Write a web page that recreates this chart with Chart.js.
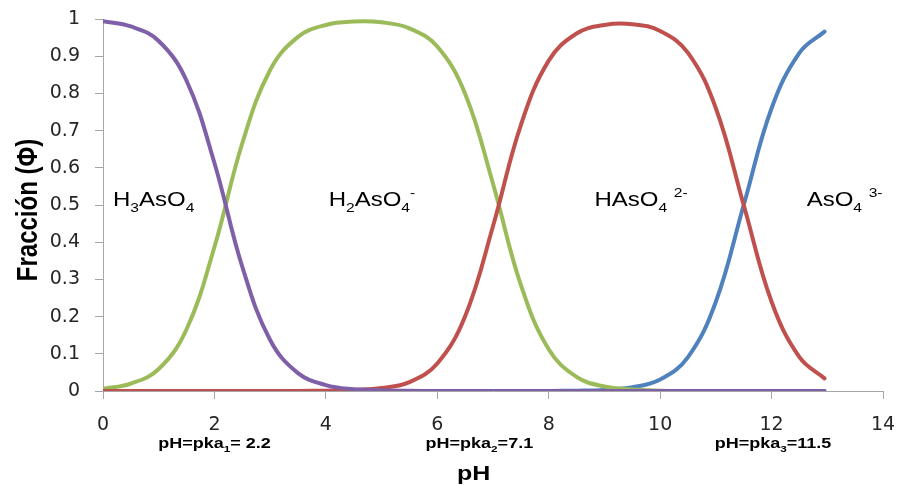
<!DOCTYPE html>
<html>
<head>
<meta charset="utf-8">
<script src="https://cdn.jsdelivr.net/npm/chart.js@4.4.0/dist/chart.umd.min.js"></script>
<style>
html,body{margin:0;padding:0;background:#fff;}
#wrap{width:899px;height:485px;position:relative;}
</style>
</head>
<body>
<div id="wrap"><canvas id="myChart"></canvas></div>
<script>
// values
var pH      = [0,0.5,1,1.5,2,2.5,3,3.5,4,4.5,5,5.5,6,6.5,7,7.5,8,8.5,9,9.5,10,10.5,11,11.5,12,12.5,12.95];
var h3aso4  = [0.994,0.980,0.941,0.834,0.613,0.334,0.137,0.048,0.016,0.005,0.002,0.0005,0,0,0,0,0,0,0,0,0,0,0,0,0,0,0];
var h2aso4  = [0.006,0.020,0.059,0.166,0.387,0.666,0.863,0.952,0.984,0.993,0.991,0.975,0.926,0.799,0.557,0.285,0.112,0.038,0.012,0.004,0.001,0,0,0,0,0,0];
var haso4   = [0,0,0,0,0,0,0,0,0.001,0.003,0.008,0.024,0.074,0.201,0.443,0.715,0.888,0.961,0.984,0.986,0.968,0.909,0.760,0.500,0.240,0.091,0.034];
var aso4    = [0,0,0,0,0,0,0,0,0,0,0,0,0,0,0,0,0,0.001,0.003,0.010,0.031,0.091,0.240,0.500,0.760,0.909,0.966];
var yTickLabels = ['0','0.1','0.2','0.3','0.4','0.5','0.6','0.7','0.8','0.9','1'];

var ctx = document.getElementById('myChart').getContext('2d');

function pts(arr){
    return arr.map(function(v,i){ return {x:pH[i], y:v}; });
}

// text with sub/superscripts, slightly widened like the original
function richText(c, x, y, parts, size, bold, sx){
    c.save();
    c.translate(x,y);
    c.scale(sx,1);
    c.fillStyle='#000';
    c.textBaseline='alphabetic';
    c.textAlign='left';
    var cx=0;
    parts.forEach(function(p){
        var fs=size, dy=0;
        if(p[1]=='sub'){fs=size*0.65; dy=size*0.28;}
        if(p[1]=='sup'){fs=size*0.65; dy=-size*0.45;}
        c.font=(bold?'bold ':'')+fs+'px "Liberation Sans", Arial, sans-serif';
        c.fillText(p[0],cx,dy);
        cx+=c.measureText(p[0]).width;
    });
    c.restore();
}

var textPlugin = {
    id:'texts',
    afterDraw:function(chart){
        var c=chart.ctx, xs=chart.scales.x, ys=chart.scales.y, b=chart.chartArea.bottom;
        var yb=ys.getPixelForValue(0.496);
        richText(c, xs.getPixelForValue(0.18), yb, [['H'],['3','sub'],['AsO'],['4','sub']], 20, false, 1.2);
        richText(c, xs.getPixelForValue(4.05), yb, [['H'],['2','sub'],['AsO'],['4','sub'],['-','sup']], 20, false, 1.2);
        richText(c, xs.getPixelForValue(8.82), yb, [['HAsO'],['4','sub'],[' '],['2-','sup']], 20, false, 1.2);
        richText(c, xs.getPixelForValue(12.63), yb, [['AsO'],['4','sub'],[' '],['3-','sup']], 20, false, 1.2);

        richText(c, xs.getPixelForValue(0.99), b+57, [['pH=pka'],['1','sub'],['= 2.2']], 15, true, 1.2);
        richText(c, xs.getPixelForValue(5.79), b+57, [['pH=pka'],['2','sub'],['=7.1']], 15, true, 1.2);
        richText(c, xs.getPixelForValue(10.98), b+57, [['pH=pka'],['3','sub'],['=11.5']], 15, true, 1.2);

        // axis titles
        richText(c, 457, 480, [['pH']], 20, true, 1.25);
        c.save();
        c.translate(36.5,(chart.chartArea.top+b)/2+5);
        c.scale(1.2,1);
        c.rotate(-Math.PI/2);
        c.font='bold 24px "Liberation Sans", Arial, sans-serif';
        c.fillStyle='#000';
        c.textAlign='center';
        c.textBaseline='alphabetic';
        c.fillText('Fracción (Φ)',0,0);
        c.restore();
    }
};

function ds(label,arr,color){
    return {
        label:label,
        data:pts(arr),
        borderColor:color,
        backgroundColor:color,
        borderWidth:4,
        borderCapStyle:'round',
        borderJoinStyle:'round',
        pointRadius:0,
        tension:0.4,
        fill:false
    };
}

var axisGrey='#A6A6A6';
var tickFont={family:'"DejaVu Sans", Verdana, sans-serif', size:19};

var chart = new Chart(ctx, {
    type:'line',
    data:{
        datasets:[
            ds('H3AsO4',h3aso4,'#7F60A8'),
            ds('HAsO4 2-',haso4,'#C0504D'),
            ds('H2AsO4-',h2aso4,'#9BBB59'),
            ds('AsO4 3-',aso4,'#4F81BD')
        ]
    },
    options:{
        responsive:true,
        maintainAspectRatio:false,
        animation:false,
        layout:{padding:{top:19,right:16,left:0,bottom:0}},
        plugins:{legend:{display:false},tooltip:{enabled:false},title:{display:false}},
        scales:{
            x:{
                type:'linear', min:0, max:14,
                afterFit:function(s){ s.height=94; s.paddingLeft=0; s.paddingRight=0; },
                ticks:{stepSize:2, color:'#262626', font:tickFont, padding:15, maxRotation:0},
                grid:{drawOnChartArea:false, drawTicks:true, tickLength:8, color:axisGrey},
                border:{display:true, color:axisGrey, width:1}
            },
            y:{
                min:0, max:1,
                afterFit:function(s){ s.width=103; s.paddingTop=0; s.paddingBottom=0; },
                ticks:{stepSize:0.1, color:'#262626', font:tickFont, padding:15,
                    callback:function(v,i){ return yTickLabels[i]; }},
                grid:{drawOnChartArea:false, drawTicks:true, tickLength:8, color:axisGrey},
                border:{display:true, color:axisGrey, width:1}
            }
        }
    },
    plugins:[textPlugin]
});
</script>
</body>
</html>
